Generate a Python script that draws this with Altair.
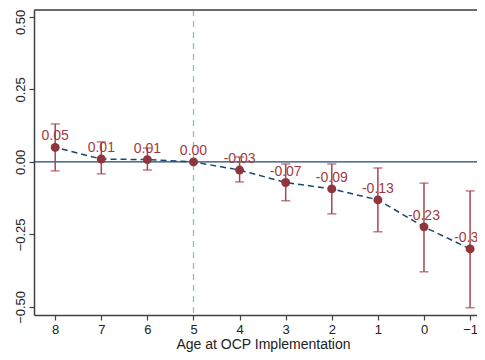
import altair as alt
import pandas as pd

ages = [8, 7, 6, 5, 4, 3, 2, 1, 0, -1]
coef = [0.05, 0.01, 0.008, 0.0, -0.028, -0.071, -0.093, -0.131, -0.224, -0.30]
ci_low = [-0.031, -0.041, -0.028, 0.0, -0.069, -0.134, -0.179, -0.241, -0.379, -0.503]
ci_high = [0.131, 0.069, 0.048, 0.0, 0.017, -0.007, -0.007, -0.021, -0.073, -0.100]
labels = ["0.05", "0.01", "0.01", "0.00", "-0.03", "-0.07", "-0.09", "-0.13", "-0.23", "-0.30"]
x_ticks = [8, 7, 6, 5, 4, 3, 2, 1, 0, -1]
y_ticks = [-0.5, -0.25, 0.0, 0.25, 0.5]
ref_x = 5

df = pd.DataFrame({"age": ages, "coef": coef, "lo": ci_low, "hi": ci_high, "lab": labels})
df_err = df[df["lo"] != df["hi"]]

W, H = 443, 305
FONT = "Liberation Sans"
AX = "#404040"
NAVY = "#1a476f"
RED = "#90353b"
ERR = "#a8464f"
LAB = "#a03a42"

xs = alt.Scale(domain=[-1.15, 8.46], reverse=True, nice=False, zero=False)
ys = alt.Scale(domain=[-0.528, 0.524], nice=False, zero=False)

xaxis = alt.Axis(values=x_ticks, format="d", title="Age at OCP Implementation",
                 grid=False, domainColor=AX, domainWidth=1.5, tickColor=AX,
                 tickWidth=1.2, tickSize=5, labelFont=FONT, labelFontSize=13,
                 labelColor="#222", titleFont=FONT, titleFontSize=14,
                 titleFontWeight="normal", titleColor="#222", titleX=229,
                 titlePadding=1, labelPadding=3, labelFlush=False)
yaxis = alt.Axis(values=y_ticks, format=".2f", title=None, grid=False,
                 domainColor=AX, domainWidth=1.5, tickColor=AX, tickWidth=1.2,
                 tickSize=5, labelFont=FONT, labelFontSize=13, labelColor="#222",
                 labelAngle=270, labelAlign="center", labelBaseline="bottom",
                 labelPadding=2, labelFlush=False,
                 labelOffset={"condition": {"test": "datum.value == 0.5", "value": 5},
                              "value": 0})

base = alt.Chart(df)

vline = alt.Chart(pd.DataFrame({"x": [ref_x]})).mark_rule(
    color="#8fbfb2", strokeDash=[6, 5], strokeWidth=1.3
).encode(x=alt.X("x:Q", scale=xs, axis=xaxis))

zero = alt.Chart(pd.DataFrame({"y": [0.0]})).mark_rule(
    color=NAVY, strokeWidth=1.3
).encode(y=alt.Y("y:Q", scale=ys, axis=yaxis))

topline = alt.Chart(pd.DataFrame({"y": [0]})).mark_rule(
    color=AX, strokeWidth=1.5
).encode(y=alt.value(0), x=alt.value(0), x2=alt.value(W))

line = base.mark_line(color=NAVY, strokeDash=[6, 4], strokeWidth=1.5).encode(
    x=alt.X("age:Q", scale=xs), y=alt.Y("coef:Q", scale=ys), order="age:Q")

err = alt.Chart(df_err).mark_rule(color=ERR, strokeWidth=1.5).encode(
    x=alt.X("age:Q", scale=xs), y=alt.Y("lo:Q", scale=ys), y2="hi:Q")

cap_lo = alt.Chart(df_err).mark_tick(color=ERR, orient="horizontal", size=9,
                                     thickness=1.5).encode(
    x=alt.X("age:Q", scale=xs), y=alt.Y("lo:Q", scale=ys))
cap_hi = alt.Chart(df_err).mark_tick(color=ERR, orient="horizontal", size=9,
                                     thickness=1.5).encode(
    x=alt.X("age:Q", scale=xs), y=alt.Y("hi:Q", scale=ys))

pts = base.mark_circle(color=RED, size=80, opacity=1).encode(
    x=alt.X("age:Q", scale=xs), y=alt.Y("coef:Q", scale=ys))

txt = base.mark_text(color=LAB, font=FONT, fontSize=14, dy=-11).encode(
    x=alt.X("age:Q", scale=xs), y=alt.Y("coef:Q", scale=ys), text="lab:N")

chart = alt.layer(vline, zero, topline, line, err, cap_lo, cap_hi, pts, txt).properties(
    width=W, height=H,
    autosize=alt.AutoSizeParams(type="none"),
    padding={"left": 26, "top": 2, "right": 0, "bottom": 45},
).configure_view(stroke=None).configure(background="white")

chart.save("out.html", embed_options={"renderer": "svg", "actions": False})
